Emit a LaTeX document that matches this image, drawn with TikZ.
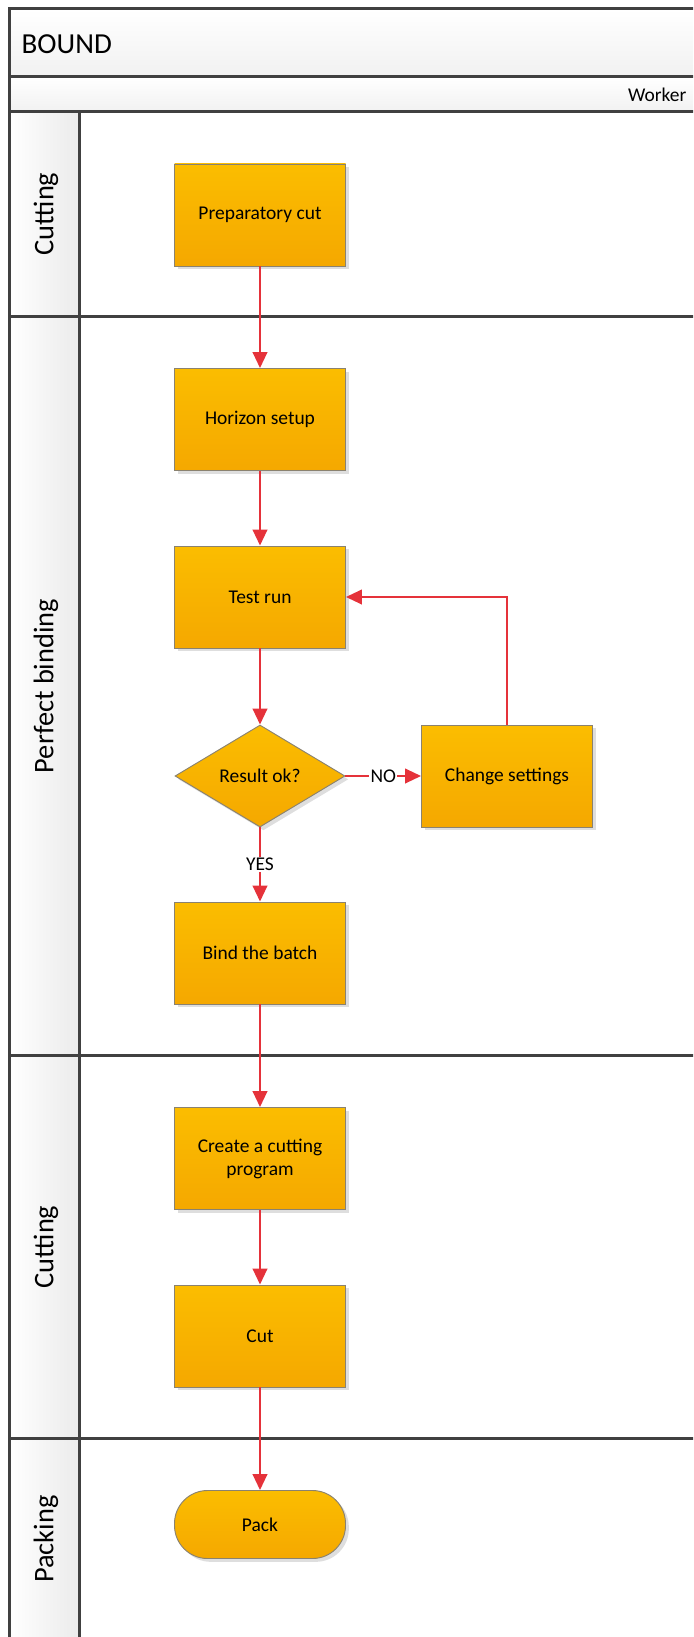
\documentclass[tikz,border=0pt]{standalone}
\usepackage{fontspec}
\setmainfont{Carlito}
\usetikzlibrary{arrows.meta,shapes.geometric,shadows}

\definecolor{frame}{HTML}{404040}
\definecolor{flow}{HTML}{E5323A}
\definecolor{boxtop}{HTML}{FBBD00}
\definecolor{boxbot}{HTML}{F5A800}
\definecolor{boxline}{HTML}{8A8270}
\definecolor{panelgrey}{HTML}{EBEBEB}

\begin{document}
\begin{tikzpicture}[x=0.75pt,y=-0.75pt,
  boxtext/.style={font=\fontsize{14.6}{17.25}\selectfont, text=black},
  shapebase/.style={boxtext, draw=boxline, line width=0.7pt,
    top color=boxtop, bottom color=boxbot, inner sep=0pt, align=center,
    drop shadow={shadow xshift=2.5pt, shadow yshift=-2.5pt, fill=black!13, opacity=1}},
  proc/.style={shapebase, rectangle, minimum width=171*0.75pt, minimum height=102*0.75pt},
  decision/.style={shapebase, diamond, minimum width=170*0.75pt, minimum height=102*0.75pt},
  term/.style={shapebase, rectangle, rounded corners=33*0.75pt,
    minimum width=171*0.75pt, minimum height=68*0.75pt},
  flowline/.style={draw=flow, line width=1.5pt,
    -{Triangle[length=12pt,width=11pt]}},
  lbl/.style={boxtext, fill=white, inner sep=1pt},
  lanetitle/.style={font=\fontsize{21.3}{25}\selectfont, rotate=90},
  rule/.style={draw=frame, line width=2.25pt}
]
\useasboundingbox (0,0) rectangle (693,1637);
\clip (0,0) rectangle (693,1637);

% pool header and role band
\shade[top color=white, bottom color=panelgrey!70] (9,9) rectangle (720,77);
\shade[top color=white, bottom color=panelgrey!70] (9,77) rectangle (720,112);
% lane title column
\shade[left color=white, right color=panelgrey] (9,112) rectangle (79,1680);

% frame lines
\draw[rule] (9,1680) -- (9,9) -- (720,9);
\draw[rule] (9,77) -- (720,77);
\draw[rule] (9,112) -- (720,112);
\draw[rule] (79,112) -- (79,1680);
\draw[rule] (9,316) -- (720,316);
\draw[rule] (9,1055) -- (720,1055);
\draw[rule] (9,1438) -- (720,1438);

% titles
\node[anchor=west, font=\fontsize{21.75}{26}\selectfont] (pool) at (17,44) {BOUND};
\node[anchor=east, boxtext] (role) at (691,95) {Worker};
\node[lanetitle] (lane1) at (46,214) {Cutting};
\node[lanetitle] (lane2) at (46,686) {Perfect binding};
\node[lanetitle] (lane3) at (46,1247) {Cutting};
\node[lanetitle] (lane4) at (46,1539) {Packing};

% process steps
\node[proc] (prep) at (260,215) {Preparatory cut};
\node[proc] (horizon) at (260,419.5) {Horizon setup};
\node[proc] (test) at (260,597) {Test run};
\node[decision] (ok) at (260,776) {Result ok?};
\node[proc] (change) at (507,776) {Change settings};
\node[proc] (bind) at (260,953) {Bind the batch};
\node[proc] (program) at (260,1158.5) {Create a cutting\\program};
\node[proc] (cut) at (260,1336) {Cut};
\node[term] (pack) at (260,1524.5) {Pack};

% connectors
\draw[flowline] (prep) -- (horizon);
\draw[flowline] (horizon) -- (test);
\draw[flowline] (test) -- (ok);
\draw[flowline] (ok) -- node[lbl] {NO} (change);
\draw[flowline] (change.north) |- (test.east);
\draw[flowline] (ok) -- node[lbl] {YES} (bind);
\draw[flowline] (bind) -- (program);
\draw[flowline] (program) -- (cut);
\draw[flowline] (cut) -- (pack);
\end{tikzpicture}
\end{document}
